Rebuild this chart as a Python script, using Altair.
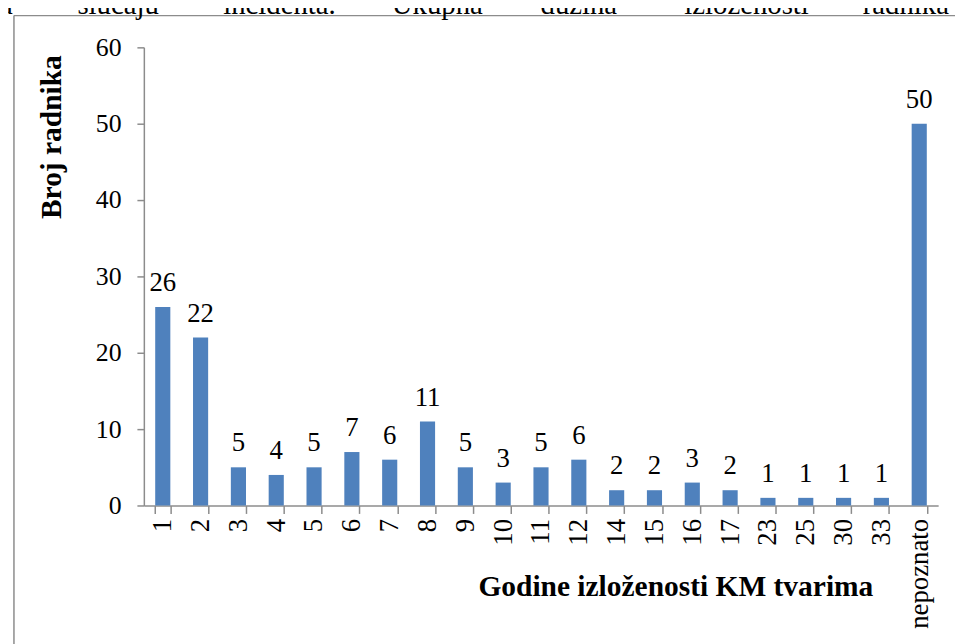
import altair as alt
import pandas as pd

categories = ["1", "2", "3", "4", "5", "6", "7", "8", "9", "10", "11", "12",
              "14", "15", "16", "17", "23", "25", "30", "33", "nepoznato"]
values = [26, 22, 5, 4, 5, 7, 6, 11, 5, 3, 5, 6, 2, 2, 3, 2, 1, 1, 1, 1, 50]
y_ticks = [0, 10, 20, 30, 40, 50, 60]
x_title = "Godine izloženosti KM tvarima"
y_title = "Broj radnika"
top_words = ["a", "slučaju", "incidenta.", "Ukupna", "dužina", "izloženosti", "radnika"]

df = pd.DataFrame({"cat": categories, "val": values})

FONT = "Liberation Serif, Times New Roman, serif"
GRAY = "#8c8c8c"
W, H = 801, 462

xenc = alt.X(
    "cat:N", sort=categories,
    scale=alt.Scale(paddingInner=0.6, paddingOuter=0.3),
    axis=alt.Axis(
        title=x_title, labelAngle=270, labelAlign="right", labelBaseline="middle",
        labelPadding=5, tickSize=8, tickBand="extent", labelFont=FONT,
        labelFontSize=27, labelColor="black", domainColor=GRAY, tickColor=GRAY,
        domainWidth=1.5, tickWidth=1.5, labelOverlap=False, labelFlush=False,
        titleFont=FONT, titleFontSize=29.7, titleFontWeight="bold", titleColor="black",
        titleX=536, titleY=91, titleAlign="center", titleBaseline="alphabetic",
        grid=False,
    ),
)
yenc = alt.Y(
    "val:Q",
    scale=alt.Scale(domain=[0, 60], nice=False, zero=True),
    axis=alt.Axis(
        title=y_title, values=y_ticks, tickSize=7, labelPadding=16, labelFont=FONT,
        labelFontSize=26, labelColor="black", domainColor=GRAY, tickColor=GRAY,
        domainWidth=1.5, tickWidth=1.5, grid=False,
        titleFont=FONT, titleFontSize=29.7, titleFontWeight="bold", titleColor="black",
        titleAngle=270, titleX=-93, titleY=90, titleAlign="center",
        titleBaseline="middle",
    ),
)

base = alt.Chart(df)
bars = base.mark_bar(color="#4F81BD").encode(x=xenc, y=yenc)
labels = base.mark_text(
    baseline="alphabetic", dy=-16, font=FONT, fontSize=27, color="black"
).encode(x=alt.X("cat:N", sort=categories), y=alt.Y("val:Q"), text="val:Q")

one = pd.DataFrame({"a": [0]})
frame_left = alt.Chart(one).mark_rule(color=GRAY, strokeWidth=1.5).encode(
    x=alt.value(-131), y=alt.value(-32), y2=alt.value(620))
frame_top = alt.Chart(one).mark_rule(color=GRAY, strokeWidth=1.5).encode(
    x=alt.value(-131), x2=alt.value(830), y=alt.value(-32))

word_x = [-145, -67, 80, 250, 400, 545, 725]
word_layers = [
    alt.Chart(one).mark_text(font=FONT, fontSize=29, align="left",
                             baseline="alphabetic", color="black").encode(
        x=alt.value(px), y=alt.value(-34), text=alt.value(w))
    for w, px in zip(top_words, word_x)
]

chart = alt.layer(bars, labels, frame_left, frame_top, *word_layers).properties(
    width=W, height=H,
    autosize=alt.AutoSizeParams(type="none"),
    padding={"left": 137, "top": 37, "right": 17, "bottom": 137},
    background="white",
).configure_view(stroke=None)

chart.save("out.html", embed_options={"renderer": "svg", "actions": False})
